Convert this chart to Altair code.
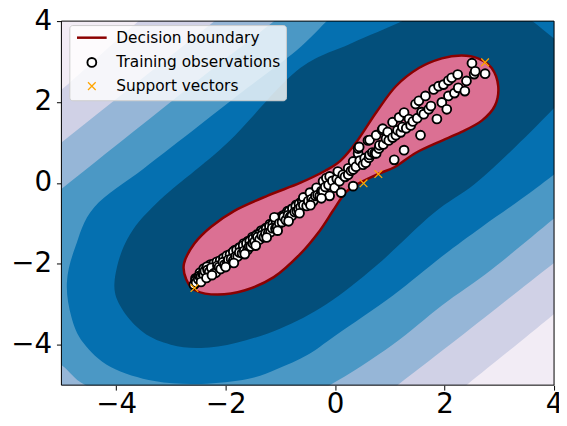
import altair as alt
import pandas as pd

# ---- filled contour regions (superlevel sets), vertices ----
lav_x = [-8.0, -6.5, -5.0, -4.3, -3.59, -2.9, -1.5, 10.0, 6.0, 5.0, 4.0, 3.16, 2.4, 1.5, 0.0, -10.0]
lav_y = [-1.0, 0.6, 2.3, 3.15, 4.0, 4.8, 6.5, 10.0, -1.0, -2.1, -3.24, -4.17, -5.0, -6.0, -7.5, -10.0]

lb_x = [-8.0, -6.5, -5.0, -3.6, -2.2, -1.2, 0.0, 12.0, 6.0, 5.0, 4.0, 3.16, 2.25, 1.14, 0.2, -1.0, -12.0]
lb_y = [-2.2, -0.6, 1.0, 2.5, 4.0, 5.1, 6.4, 12.0, 0.1, -0.95, -1.98, -2.87, -3.84, -5.0, -6.0, -7.3, -12.0]

med_x = [-6.8, -6.0, -5.0, -3.7, -2.4, -1.11, 0.0, 1.0, 12.0, 6.0, 5.0, 4.0, 2.86, 1.95, 1.05,
         -0.1, -1.0, -2.2, -3.5, -4.56, -5.0, -5.6, -6.5]
med_y = [-2.0, -1.2, -0.15, 1.25, 2.65, 4.0, 5.2, 6.3, 12.0, 1.3, 0.2, -0.88, -2.14, -3.03, -4.0,
         -5.0, -5.5, -5.8, -5.6, -5.0, -4.5, -4.0, -3.0]

o5_x = [-4.9, -4.82, -4.6, -4.1, -3.3, -2.45, -1.6, -1.06, -0.5, 0.02, 1.05, 1.95, 2.68, 3.4, 4.0,
        5.0, 6.0, 12.0, 2.0, 0.6, -0.15, -0.7, -1.6, -2.5, -3.5, -4.4, -4.75]
o5_y = [-2.46, -3.3, -3.95, -4.55, -4.9, -4.97, -4.85, -4.6, -4.25, -3.76, -2.79, -1.82, -1.09, -0.4, 0.21,
        1.25, 2.3, 12.0, 6.5, 5.0, 4.0, 3.28, 2.35, 1.4, 0.35, -0.6, -1.6]

dk_x = [-4.03, -3.9, -3.5, -3.0, -2.45, -1.8, -1.0, -0.16, 0.75, 1.78, 2.55, 3.3, 4.0, 4.5, 4.4,
        4.0, 3.6, 3.1, 2.2, 1.23, 0.3, -0.7, -1.96, -3.23, -3.8]
dk_y = [-2.45, -3.1, -3.7, -4.0, -4.08, -3.95, -3.6, -3.0, -2.05, -0.77, -0.03, 0.9, 1.85, 2.6, 3.2,
        3.57, 4.0, 4.5, 4.7, 4.0, 3.45, 2.77, 1.0, -0.46, -1.4]

red_x = [-2.55, -2.15, -1.66, -1.12, -0.64, -0.28, -0.04, 0.2, 0.45, 0.8, 1.1, 1.47, 1.89, 2.31, 2.68,
         2.92, 2.98, 2.86, 2.61, 2.31, 1.95, 1.53, 1.11, 0.75, 0.39, 0.1, -0.18, -0.64, -1.24, -1.84,
         -2.27, -2.57, -2.76, -2.72]
red_y = [-2.66, -2.76, -2.66, -2.33, -1.76, -1.18, -0.69, -0.22, 0.0, 0.23, 0.40, 0.74, 1.01, 1.26, 1.54,
         1.91, 2.39, 2.84, 3.08, 3.15, 3.08, 2.84, 2.39, 1.74, 1.01, 0.55, 0.30, 0.0, -0.32, -0.69,
         -1.09, -1.50, -1.99, -2.38]

# ---- training observations ----
# dense, overlapping points just above the diagonal in the lower half (drawn first)
dense_x = [-2.55, -2.47, -2.39, -2.31, -2.23, -2.15, -2.07, -1.99, -1.91, -1.83, -1.75, -1.67, -1.59,
           -1.51, -1.43, -1.35, -1.27, -1.19, -1.11, -1.03, -0.95, -0.87, -0.79, -0.71, -0.63, -0.55,
           -0.47, -0.39, -0.31,
           -2.52, -2.47, -2.40, -2.35, -2.28, -2.22, -2.16, -2.10, -2.04, -1.98, -1.92, -1.86, -1.80,
           -1.74, -1.68, -1.62, -1.56, -1.50, -1.44, -1.38, -1.32, -1.26, -1.20, -1.14, -1.08, -1.02,
           -0.96, -0.90, -0.84, -0.78, -0.72, -0.66, -0.60, -0.54, -0.48, -0.42, -0.36, -0.30, -0.24,
           -0.18, -0.12, -0.06]
dense_y = [-2.36, -2.30, -2.22, -2.16, -2.06, -2.00, -1.90, -1.84, -1.76, -1.66, -1.60, -1.50, -1.44,
           -1.34, -1.28, -1.18, -1.12, -1.02, -0.96, -0.86, -0.80, -0.70, -0.64, -0.54, -0.48, -0.38,
           -0.32, -0.22, -0.16,
           -2.35, -2.22, -2.12, -2.12, -2.02, -2.00, -1.95, -1.92, -1.86, -1.80, -1.77, -1.70, -1.66,
           -1.60, -1.55, -1.50, -1.44, -1.38, -1.30, -1.26, -1.20, -1.14, -1.08, -1.02, -0.96, -0.90,
           -0.84, -0.78, -0.70, -0.64, -0.58, -0.52, -0.46, -0.40, -0.34, -0.28, -0.22, -0.16, -0.10,
           -0.02, 0.04, 0.10]

train_x = [-2.58, -2.55, -2.54, -2.50, -2.48, -2.45, -2.42, -2.40, -2.38, -2.34, -2.33, -2.30, -2.26,
           -2.21, -2.18, -2.15, -2.12, -2.09, -2.05, -2.02, -1.97, -1.95, -1.90, -1.86, -1.82, -1.78,
           -1.75, -1.70, -1.66, -1.60, -1.57, -1.54, -1.50, -1.47, -1.42, -1.38, -1.34, -1.30, -1.27,
           -1.22, -1.18, -1.15, -1.11, -1.09, -1.06, -1.02, -0.97, -0.94, -0.90, -0.86, -0.82, -0.79,
           -0.74, -0.70, -0.67, -0.63, -0.58, -0.58, -0.52, -0.49, -0.46, -0.43, -0.40, -0.36, -0.34,
           -0.32, -0.28, -0.25, -0.22, -0.22, -0.18, -0.16, -0.12, -0.10, -0.10, -0.05, -0.01, 0.03,
           0.05, 0.08, 0.11, 0.14, 0.18, 0.24, 0.24, 0.29, 0.33, 0.33, 0.33, 0.38, 0.42, 0.42, 0.44,
           0.45, 0.51, 0.54, 0.56, 0.60, 0.62, 0.63, 0.63, 0.68, 0.72, 0.75, 0.75, 0.80, 0.81, 0.86,
           0.87, 0.88, 0.93, 0.96, 0.98, 1.05, 1.05, 1.08, 1.11, 1.14, 1.17, 1.20, 1.23, 1.26, 1.26,
           1.30, 1.35, 1.38, 1.42, 1.47, 1.50, 1.53, 1.56, 1.58, 1.62, 1.65, 1.71, 1.75, 1.80, 1.86,
           1.89, 1.95, 1.98, 2.04, 2.07, 2.07, 2.13, 2.18, 2.24, 2.25, 2.37, 2.40, 2.50, 2.54, 2.56,
           2.74,
           -2.45, -2.35, -2.25, -2.00, -1.85, -1.65, -1.45, -1.25, -1.05, -0.85, -0.65, -0.45, -0.25]
train_y = [-2.52, -2.42, -2.47, -2.38, -2.30, -2.31, -2.25, -2.28, -2.18, -2.07, -2.15, -2.20, -2.10,
           -2.23, -2.22, -2.05, -2.08, -2.13, -1.96, -2.02, -1.99, -1.90, -1.88, -1.92, -1.82, -1.82,
           -1.72, -1.74, -1.68, -1.66, -1.57, -1.57, -1.50, -1.45, -1.34, -1.40, -1.30, -1.34, -1.25,
           -1.24, -1.22, -1.12, -0.85, -1.13, -1.09, -1.00, -0.97, -0.84, -0.92, -0.80, -0.83, -0.81,
           -0.72, -0.70, -0.65, -0.60, -0.36, -0.55, -0.57, -0.45, -0.24, -0.40, -0.45, -0.32, -0.12,
           -0.30, -0.32, -0.20, 0.04, -0.20, -0.10, 0.12, -0.05, -0.32, 0.16, 0.05, -0.12, 0.10,
           0.28, 0.04, -0.24, 0.20, 0.15, 0.36, 0.20, 0.30, 0.33, 0.53, -0.08, 0.40, 0.73, 0.85, 0.89,
           0.55, 0.45, 0.61, 0.50, 1.05, 0.62, 0.69, 1.06, 0.75, 0.73, 1.18, 0.73, 0.85, 0.93, 1.31,
           1.34, 0.95, 1.09, 1.26, 1.05, 1.50, 1.12, 0.57, 1.18, 1.30, 1.62, 1.25, 1.38, 1.74, 0.81,
           1.35, 1.58, 1.42, 1.52, 1.95, 1.60, 2.03, 1.18, 1.75, 1.70, 2.15, 1.82, 1.90, 2.31, 1.58,
           2.39, 1.99, 2.43, 1.82, 2.53, 2.15, 2.60, 2.22, 2.68, 2.35, 2.27, 2.52, 2.96, 2.69, 2.76,
           2.70,
           -2.45, -2.35, -2.28, -2.08, -1.98, -1.76, -1.55, -1.35, -1.18, -0.95, -0.75, -0.55, -0.38]

sv_x = [-2.57, 0.52, 0.79, 2.74]
sv_y = [-2.60, -0.01, 0.22, 2.98]

legend_kinds = ["Decision boundary", "Training observations", "Support vectors"]

# ---- colours (PuBu levels) ----
c_lightest = "#f2ecf5"
c_lav = "#d0d1e6"
c_lb = "#96b6d7"
c_med = "#4b98c5"
c_o5 = "#0570b0"
c_dk = "#034f7b"

xscale = alt.Scale(domain=[-5, 4], nice=False, zero=False)
yscale = alt.Scale(domain=[-5, 4], nice=False, zero=False)
axis_common = dict(values=[-4, -2, 0, 2, 4], grid=False, domain=False, ticks=True, tickSize=5,
                   tickColor="black", tickWidth=1, labelFontSize=28, labelFont="DejaVu Sans",
                   labelColor="black", title=None, labelFlush=False, format="d")
X = alt.X("x:Q", scale=xscale, axis=alt.Axis(labelPadding=1, **axis_common))
Y = alt.Y("y:Q", scale=yscale, axis=alt.Axis(labelPadding=5, **axis_common))


def poly_df(xs, ys):
    return pd.DataFrame({"x": xs, "y": ys, "i": list(range(len(xs)))})


def region(xs, ys, color):
    return alt.Chart(poly_df(xs, ys)).mark_line(
        interpolate="cardinal-closed", fill=color, strokeWidth=0, clip=True
    ).encode(x=X, y=Y, order=alt.Order("i:Q"))


layers = [
    region(lav_x, lav_y, c_lav),
    region(lb_x, lb_y, c_lb),
    region(med_x, med_y, c_med),
    region(o5_x, o5_y, c_o5),
    region(dk_x, dk_y, c_dk),
]

red = alt.Chart(poly_df(red_x, red_y)).mark_line(
    interpolate="cardinal-closed", fill="#db7093", stroke="#8b0000", strokeWidth=2.5, clip=True
).encode(x=X, y=Y, order=alt.Order("i:Q"))
layers.append(red)

all_train_x = dense_x + train_x
all_train_y = dense_y + train_y
pts = pd.DataFrame({
    "x": all_train_x + sv_x,
    "y": all_train_y + sv_y,
    "kind": ["Training observations"] * len(all_train_x) + ["Support vectors"] * len(sv_x),
})
leg = alt.Legend(title=None)
points = alt.Chart(pts).mark_point(opacity=1, clip=True).encode(
    x=X, y=Y,
    shape=alt.Shape("kind:N", scale=alt.Scale(domain=legend_kinds,
                    range=["M-3,0H3", "circle", "M-1,-1L1,1M-1,1L1,-1"]), legend=leg),
    stroke=alt.Stroke("kind:N", scale=alt.Scale(domain=legend_kinds,
                      range=["#8b0000", "black", "orange"]), legend=leg),
    fill=alt.Fill("kind:N", scale=alt.Scale(domain=legend_kinds,
                  range=["rgba(0,0,0,0)", "white", "rgba(0,0,0,0)"]), legend=leg),
    size=alt.Size("kind:N", scale=alt.Scale(domain=legend_kinds, range=[100, 60, 75]), legend=leg),
    strokeWidth=alt.StrokeWidth("kind:N", scale=alt.Scale(domain=legend_kinds, range=[2.5, 1.3, 2.2]),
                                legend=leg),
)
layers.append(points)

frame = alt.Chart(pd.DataFrame({"a": [0]})).mark_rect(filled=False, stroke="black", strokeWidth=1).encode(
    x=alt.datum(-5, scale=xscale), x2=alt.datum(4), y=alt.datum(-5, scale=yscale), y2=alt.datum(4)
)
layers.append(frame)

chart = alt.layer(*layers).properties(
    width=498, height=368,
    autosize=alt.AutoSizeParams(type="none"),
    padding={"left": 54, "top": 11, "right": 5, "bottom": 35},
).configure_view(
    fill=c_lightest, stroke=None
).configure_legend(
    orient="none", legendX=8, legendY=4, padding=5, fillColor="rgba(255,255,255,0.8)",
    strokeColor="#cccccc", cornerRadius=3, labelFont="DejaVu Sans", labelFontSize=15.5,
    labelColor="black", rowPadding=7, symbolOffset=10, labelOffset=17, labelLimit=0
)

chart.save("out.html", embed_options={"renderer": "svg", "actions": False})
